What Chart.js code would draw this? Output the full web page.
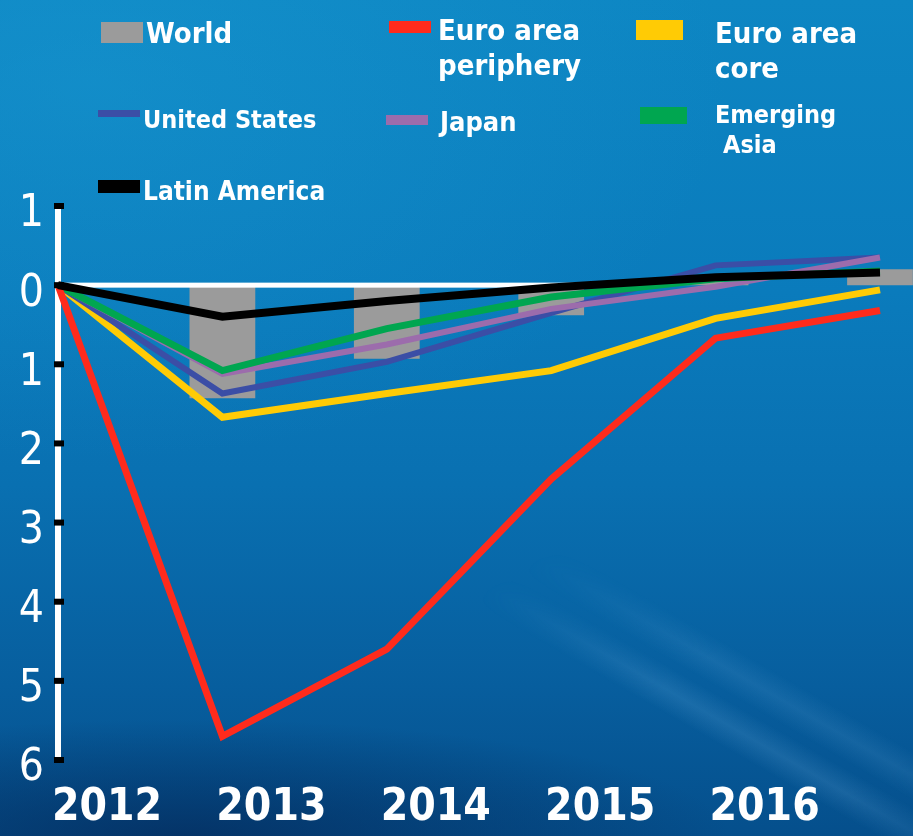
<!DOCTYPE html>
<html>
<head>
<meta charset="utf-8">
<title>Output gap by region</title>
<script src="https://cdn.jsdelivr.net/npm/chart.js@4.4.1/dist/chart.umd.min.js"></script>
<style>
  html, body { margin: 0; padding: 0; }
  body {
    position: relative;
    width: 913px;
    height: 836px;
    overflow: hidden;
    background:
      radial-gradient(ellipse 60% 14% at 20% 100%, rgba(4, 40, 88, 0.7), rgba(4, 40, 88, 0)),
      radial-gradient(ellipse 70% 45% at 10% 10%, rgba(30, 160, 215, 0.35), rgba(30, 160, 215, 0)),
      linear-gradient(180deg, #0d86c3 0%, #0a7bbc 35%, #0970b1 58%, #075e9e 82%, #054f8c 100%);
  }
  /* soft light streaks in the lower right corner */
  .streaks {
    position: absolute;
    left: 380px;
    top: 520px;
    width: 533px;
    height: 316px;
    background:
      linear-gradient(30deg, rgba(255,255,255,0) 46%, rgba(130,195,240,0.16) 50%, rgba(255,255,255,0) 54%),
      linear-gradient(30deg, rgba(255,255,255,0) 55%, rgba(130,195,240,0.12) 59%, rgba(255,255,255,0) 63%);
    -webkit-mask-image: radial-gradient(ellipse 70% 70% at 75% 65%, #000 35%, transparent 100%);
    mask-image: radial-gradient(ellipse 70% 70% at 75% 65%, #000 35%, transparent 100%);
  }
  canvas { display: block; position: relative; z-index: 1; }
</style>
</head>
<body>
<div class="streaks"></div>
<canvas id="chart" width="913" height="836"></canvas>
<script>
// categories and series (percent of potential output)
const years = ['2012', '2013', '2014', '2015', '2016', ''];
const world = [0, -1.43, -0.93, -0.38, 0.04, 0.2];
const euroPeriphery = [0, -5.7, -4.6, -2.45, -0.67, -0.32];
const euroCore = [0, -1.67, -1.37, -1.08, -0.42, -0.06];
const unitedStates = [0, -1.37, -0.97, -0.35, 0.25, 0.35];
const japan = [0, -1.12, -0.75, -0.3, -0.02, 0.35];
const emergingAsia = [0, -1.08, -0.55, -0.15, 0.08, 0.18];
const latinAmerica = [0, -0.4, -0.2, -0.03, 0.1, 0.16];
const yTicks = [1, 0, -1, -2, -3, -4, -5, -6];

const FONT = "'DejaVu Sans Condensed', 'DejaVu Sans', sans-serif";

const line = (label, data, color, width, order) => ({
  type: 'line',
  label,
  data,
  borderColor: color,
  backgroundColor: color,
  borderWidth: width,
  pointRadius: 0,
  tension: 0,
  fill: false,
  order
});

// white zero line, drawn over the bars but under the lines
const zeroLine = {
  id: 'zeroLine',
  afterDatasetDraw(chart, args) {
    if (args.index !== 0) return;
    const { ctx, chartArea, scales: { x, y } } = chart;
    const y0 = y.getPixelForValue(0);
    ctx.save();
    ctx.fillStyle = '#ffffff';
    ctx.fillRect(chartArea.left, y0 - 2.5, x.getPixelForValue(3.4) - chartArea.left, 5);
    ctx.restore();
  }
};

// small black squares on the y axis
const tickMarks = {
  id: 'tickMarks',
  afterDraw(chart) {
    const { ctx, chartArea, scales: { y } } = chart;
    ctx.save();
    ctx.fillStyle = '#000000';
    y.ticks.forEach(t => {
      const py = y.getPixelForValue(t.value);
      ctx.fillRect(chartArea.left - 4, py - 3, 10, 6);
    });
    ctx.restore();
  }
};

// legend in three columns
const legendLayout = [
  { ds: 0, box: [101, 22, 42, 21], size: 29, lines: [['World', 146, 43]] },
  { ds: 1, box: [389, 21, 42, 12], size: 29, lines: [['Euro area', 438, 40], ['periphery', 438, 75]] },
  { ds: 2, box: [636, 20, 47, 20], size: 29, lines: [['Euro area', 715, 43], ['core', 715, 78]] },
  { ds: 3, box: [98, 110, 42, 7], size: 25, lines: [['United States', 143, 128]] },
  { ds: 4, box: [386, 115, 42, 10], size: 27, lines: [['Japan', 440, 131]] },
  { ds: 5, box: [640, 107, 47, 17], size: 25, lines: [['Emerging', 715, 123], ['Asia', 723, 153]] },
  { ds: 6, box: [98, 180, 42, 13], size: 26, lines: [['Latin America', 143, 200]] }
];

const legendPlugin = {
  id: 'customLegend',
  afterDraw(chart) {
    const { ctx } = chart;
    ctx.save();
    legendLayout.forEach(item => {
      const ds = chart.data.datasets[item.ds];
      ctx.fillStyle = ds.type === 'bar' ? ds.backgroundColor : ds.borderColor;
      ctx.fillRect(...item.box);
      ctx.fillStyle = '#ffffff';
      ctx.font = `bold ${item.size}px ${FONT}`;
      ctx.textBaseline = 'alphabetic';
      ctx.textAlign = 'left';
      item.lines.forEach(([text, tx, ty]) => ctx.fillText(text, tx, ty));
    });
    ctx.restore();
  }
};

new Chart(document.getElementById('chart').getContext('2d'), {
  data: {
    labels: years,
    datasets: [
      {
        type: 'bar',
        label: 'World',
        data: world,
        backgroundColor: '#9b9b9b',
        barPercentage: 0.4,
        categoryPercentage: 1,
        clip: false,
        order: 10
      },
      line('Euro area periphery', euroPeriphery, '#ff2b1c', 7, 2),
      line('Euro area core', euroCore, '#ffcb05', 7, 6),
      line('United States', unitedStates, '#3b4ea6', 6, 5),
      line('Japan', japan, '#9c6cac', 6, 4),
      line('Emerging Asia', emergingAsia, '#00a650', 7, 3),
      line('Latin America', latinAmerica, '#000000', 8, 1)
    ]
  },
  options: {
    responsive: false,
    animation: false,
    layout: { padding: { top: 206, right: 33, bottom: 0, left: 0 } },
    plugins: { legend: { display: false }, tooltip: { enabled: false } },
    scales: {
      x: {
        type: 'category',
        offset: false,
        grid: { display: false, drawTicks: false },
        border: { display: false },
        ticks: {
          color: '#ffffff',
          font: { family: FONT, size: 44, weight: 'bold' },
          padding: 22,
          labelOffset: 49,
          autoSkip: false,
          maxRotation: 0
        },
        afterFit(scale) {
          scale.height = 76;
          scale.paddingLeft = 0;
          scale.paddingRight = 0;
        }
      },
      y: {
        min: -6,
        max: 1,
        grid: { display: false, drawTicks: false },
        border: { display: true, color: '#ffffff', width: 6 },
        afterBuildTicks(scale) {
          scale.ticks = yTicks.map(v => ({ value: v }));
        },
        ticks: {
          color: '#ffffff',
          font: { family: FONT, size: 44 },
          padding: 14,
          labelOffset: 9,
          callback: v => String(Math.abs(v))
        },
        afterFit(scale) {
          scale.width = 58;
          scale.paddingTop = 0;
          scale.paddingBottom = 0;
        }
      }
    }
  },
  plugins: [zeroLine, tickMarks, legendPlugin]
});
</script>
</body>
</html>
